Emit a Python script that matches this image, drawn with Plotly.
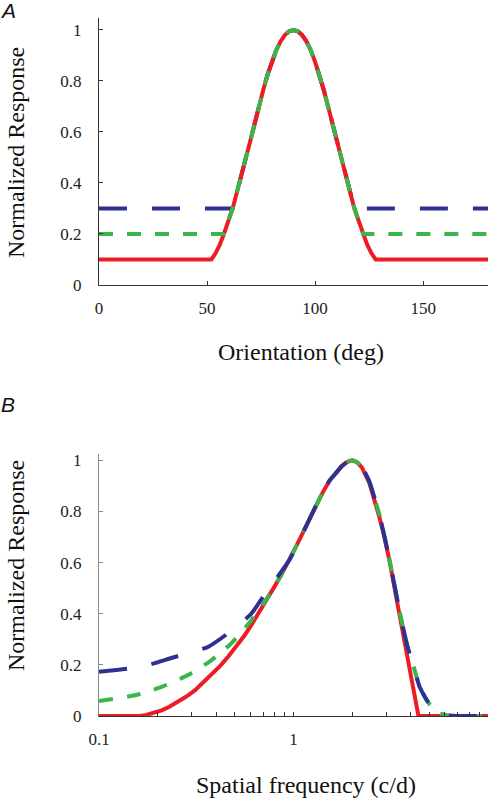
import plotly.graph_objects as go

# ---------------- Panel A data (orientation tuning) ----------------
ori_red_x = [0, 52, 54, 56, 58, 60, 62, 64, 66, 68, 70, 72, 74, 76, 78, 80, 82, 84, 86, 88, 90,
             92, 94, 96, 98, 100, 102, 104, 106, 108, 110, 112, 114, 116, 118, 120, 122, 124, 126, 128, 180]
ori_red_y = [0.10, 0.10, 0.125, 0.16, 0.205, 0.255, 0.305, 0.37, 0.43, 0.50, 0.565, 0.635, 0.70, 0.765, 0.825,
             0.875, 0.92, 0.955, 0.98, 0.995, 1.0,
             0.995, 0.98, 0.955, 0.92, 0.875, 0.825, 0.765, 0.70, 0.635, 0.565, 0.50, 0.43, 0.37, 0.305,
             0.255, 0.205, 0.16, 0.125, 0.10, 0.10]

ori_green_x = [0, 57.8, 60, 62, 64, 66, 68, 70, 72, 74, 76, 78, 80, 82, 84, 86, 88, 90,
               92, 94, 96, 98, 100, 102, 104, 106, 108, 110, 112, 114, 116, 118, 120, 122.2, 180]
ori_green_y = [0.20, 0.20, 0.255, 0.305, 0.37, 0.43, 0.50, 0.565, 0.635, 0.70, 0.765, 0.825, 0.875, 0.92,
               0.955, 0.98, 0.995, 1.0,
               0.995, 0.98, 0.955, 0.92, 0.875, 0.825, 0.765, 0.70, 0.635, 0.565, 0.50, 0.43, 0.37, 0.305,
               0.255, 0.20, 0.20]

ori_blue_x = [0, 61.8, 64, 66, 68, 70, 72, 74, 76, 78, 80, 82, 84, 86, 88, 90,
              92, 94, 96, 98, 100, 102, 104, 106, 108, 110, 112, 114, 116, 118.2, 180]
ori_blue_y = [0.30, 0.30, 0.37, 0.43, 0.50, 0.565, 0.635, 0.70, 0.765, 0.825, 0.875, 0.92, 0.955, 0.98,
              0.995, 1.0,
              0.995, 0.98, 0.955, 0.92, 0.875, 0.825, 0.765, 0.70, 0.635, 0.565, 0.50, 0.43, 0.37, 0.30, 0.30]

ori_ticks = [0, 50, 100, 150]
resp_ticks = [0, 0.2, 0.4, 0.6, 0.8, 1]

# ---------------- Panel B data (spatial frequency tuning) ----------------
sf_red_x = [0.1, 0.162, 0.175, 0.19, 0.21, 0.23, 0.255, 0.28, 0.311, 0.34, 0.378, 0.42, 0.46, 0.51, 0.561,
            0.61, 0.656, 0.72, 0.80, 0.87, 0.953, 1.05, 1.16, 1.28, 1.41, 1.53, 1.66, 1.77, 1.88, 2.0,
            2.12, 2.25, 2.45, 2.6, 2.76, 2.93, 3.11, 3.5, 3.86, 4.09, 4.39, 10]
sf_red_y = [0, 0, 0.004, 0.011, 0.022, 0.036, 0.055, 0.075, 0.10, 0.128, 0.16, 0.196, 0.231, 0.274, 0.316,
            0.358, 0.40, 0.45, 0.507, 0.555, 0.61, 0.675, 0.742, 0.81, 0.873, 0.92, 0.952, 0.977, 0.993, 1.0,
            0.993, 0.972, 0.913, 0.85, 0.78, 0.70, 0.61, 0.40, 0.22, 0.124, 0, 0]

sf_green_x = [0.1, 0.153, 0.21, 0.287, 0.378, 0.479, 0.607, 0.72, 0.82, 0.953, 1.05, 1.16, 1.28, 1.41,
              1.53, 1.66, 1.77, 1.88, 2.0, 2.12, 2.25, 2.45, 2.76, 3.11, 3.5, 3.86, 4.12, 4.45, 4.79,
              5.28, 5.6, 6.3, 7.1, 10]
sf_green_y = [0.059, 0.081, 0.114, 0.16, 0.218, 0.284, 0.375, 0.452, 0.522, 0.61, 0.675, 0.742, 0.81, 0.873,
              0.92, 0.952, 0.977, 0.993, 1.0, 0.993, 0.974, 0.918, 0.79, 0.615, 0.415, 0.27, 0.20, 0.114, 0.068,
              0.022, 0.01, 0.002, 0, 0]

sf_blue_x = [0.1, 0.144, 0.19, 0.231, 0.29, 0.363, 0.46, 0.607, 0.71, 0.82, 0.953, 1.05, 1.16, 1.28, 1.41,
             1.53, 1.66, 1.77, 1.88, 2.0, 2.12, 2.25, 2.45, 2.76, 3.11, 3.5, 3.86, 4.12, 4.45, 4.79,
             5.28, 5.6, 6.3, 7.1, 10]
sf_blue_y = [0.173, 0.186, 0.205, 0.225, 0.247, 0.27, 0.323, 0.40, 0.475, 0.54, 0.61, 0.675, 0.742, 0.81, 0.873,
             0.92, 0.952, 0.977, 0.993, 1.0, 0.993, 0.974, 0.918, 0.79, 0.615, 0.415, 0.27, 0.20, 0.114, 0.068,
             0.022, 0.01, 0.002, 0, 0]

sf_tickvals = [0.1, 0.2, 0.3, 0.4, 0.5, 0.6, 0.7, 0.8, 0.9, 1, 2, 3, 4, 5, 6, 7, 8, 9, 10]
sf_ticktext = ["0.1", "", "", "", "", "", "", "", "", "1", "", "", "", "", "", "", "", "", "10"]

RED = "#ED1C24"
GREEN = "#39B54A"
BLUE = "#2E3192"
W = 4
BLUE_DASH = "28px,25px"
GREEN_DASH = "14px,14px"

fig = go.Figure()

# Panel A: blue beneath, then red, then green
fig.add_trace(go.Scatter(x=ori_blue_x, y=ori_blue_y, mode="lines",
                         line=dict(color=BLUE, width=W, dash=BLUE_DASH), xaxis="x", yaxis="y"))
fig.add_trace(go.Scatter(x=ori_red_x, y=ori_red_y, mode="lines",
                         line=dict(color=RED, width=W), xaxis="x", yaxis="y"))
fig.add_trace(go.Scatter(x=ori_green_x, y=ori_green_y, mode="lines",
                         line=dict(color=GREEN, width=W, dash=GREEN_DASH), xaxis="x", yaxis="y"))

# Panel B: red, green, blue on top
fig.add_trace(go.Scatter(x=sf_red_x, y=sf_red_y, mode="lines",
                         line=dict(color=RED, width=W), xaxis="x2", yaxis="y2"))
fig.add_trace(go.Scatter(x=sf_green_x, y=sf_green_y, mode="lines",
                         line=dict(color=GREEN, width=W, dash=GREEN_DASH, shape="spline", smoothing=0.5),
                         xaxis="x2", yaxis="y2"))
fig.add_trace(go.Scatter(x=sf_blue_x, y=sf_blue_y, mode="lines",
                         line=dict(color=BLUE, width=W, dash=BLUE_DASH, shape="spline", smoothing=0.5),
                         xaxis="x2", yaxis="y2"))

serif = "Liberation Serif"
tickfont = dict(family=serif, size=17, color="#222")

common_axis = dict(showgrid=False, zeroline=False, showline=True, linewidth=1,
                   ticks="inside", ticklen=4, tickwidth=1, tickfont=tickfont)

fig.update_layout(
    width=495, height=800,
    margin=dict(l=99, r=7, t=18, b=84),
    paper_bgcolor="white", plot_bgcolor="white",
    font=dict(family=serif, color="#222"),
    showlegend=False,
    xaxis=dict(domain=[0, 1], range=[0, 180], tickvals=ori_ticks, anchor="y",
               linecolor="#333", tickcolor="#333", ticklabelstandoff=8, **common_axis),
    yaxis=dict(domain=[0.6175, 1], range=[0, 1.047], tickvals=resp_ticks, anchor="x",
               linecolor="#333", tickcolor="#333", ticklabelstandoff=13, **common_axis),
    xaxis2=dict(domain=[0, 1], type="log", range=[-1, 1], tickvals=sf_tickvals, ticktext=sf_ticktext,
                anchor="y2", linecolor="#333", tickcolor="#333", ticklabelstandoff=8, **common_axis),
    yaxis2=dict(domain=[0, 0.3754], range=[0, 1.025], tickvals=resp_ticks, anchor="x2",
                linecolor="#888", tickcolor="#888", ticklabelstandoff=13, **common_axis),
)

titlefont = dict(family=serif, size=24, color="#111")
ann = [
    dict(text="Normalized Response", x=-0.2134, y=0.808, textangle=-90),
    dict(text="Normalized Response", x=-0.2134, y=0.2163, textangle=-90),
    dict(text="Orientation (deg)", x=0.519, y=0.5215, textangle=0),
    dict(text="Spatial frequency (c/d)", x=0.532, y=-0.0989, textangle=0),
]
for a in ann:
    fig.add_annotation(text=a["text"], x=a["x"], y=a["y"], xref="paper", yref="paper",
                       textangle=a["textangle"], showarrow=False, font=titlefont,
                       xanchor="center", yanchor="middle")

panelfont = dict(family="Liberation Sans", size=21, color="#111")
fig.add_annotation(text="<i>A</i>", x=-0.235, y=1.0105, xref="paper", yref="paper",
                   showarrow=False, font=panelfont, xanchor="center", yanchor="middle")
fig.add_annotation(text="<i>B</i>", x=-0.235, y=0.4456, xref="paper", yref="paper",
                   showarrow=False, font=panelfont, xanchor="center", yanchor="middle")

fig.write_html("out.html", config={"displayModeBar": False},
               post_script="document.body.style.margin='0';document.body.style.overflow='hidden';")
